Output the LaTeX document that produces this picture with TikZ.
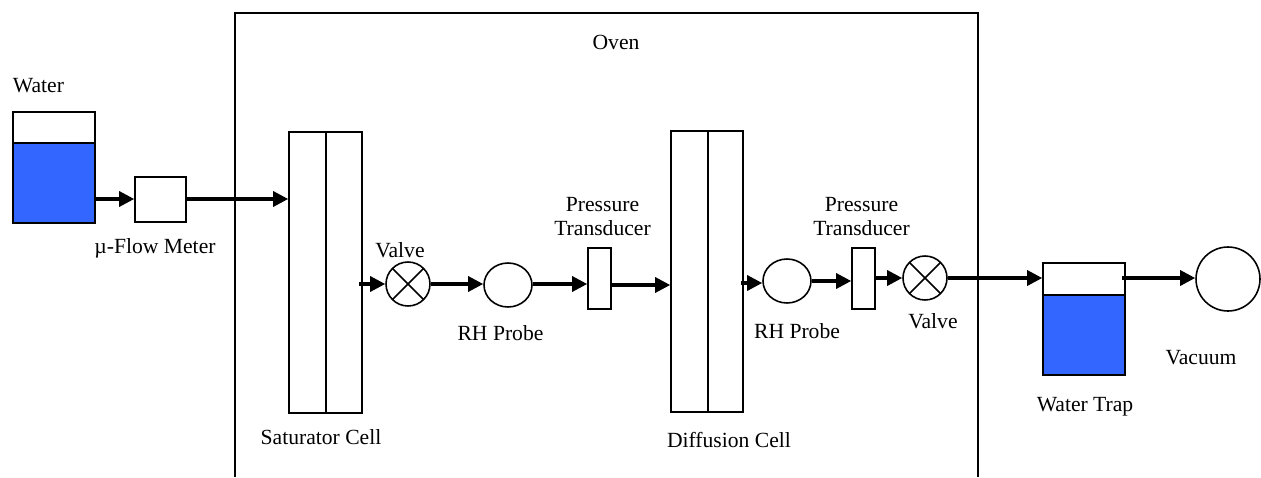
\documentclass[tikz,border=0pt]{standalone}
\usepackage{xcolor}
\usepackage{fontspec}
\setmainfont{Liberation Serif}
\usetikzlibrary{arrows.meta}
\usetikzlibrary{shapes.geometric}
\definecolor{waterblue}{RGB}{51,102,255}
\tikzset{
    box/.style={draw, line width=0.9pt, fill=white, inner sep=0pt},
    water/.style={box, fill=waterblue},
    valve/.style={box, circle, minimum size=0.88cm, path picture={
        \draw[line width=0.9pt] (path picture bounding box.north west) -- (path picture bounding box.south east);
        \draw[line width=0.9pt] (path picture bounding box.north east) -- (path picture bounding box.south west);}},
    probe/.style={box, ellipse, minimum width=0.96cm, minimum height=0.88cm},
    flow/.style={line width=1.8pt, -{Triangle[length=0.3cm,width=0.3cm]}},
    lbl/.style={font=\fontsize{12.3}{14.2}\selectfont, align=center, inner sep=0pt}
}
\begin{document}
\begin{tikzpicture}[x=0.02cm, y=-0.02cm]
    \useasboundingbox (0,0) rectangle (1261,477);
    % oven
    \draw[line width=1.1pt] (235,477) -- (235,13) -- (978,13) -- (978,477);
    \node[lbl] (ovenlabel) at (616,42) {Oven};
    % water supply
    \node[box, minimum width=1.64cm, minimum height=0.62cm] (tanktop) at (54,127.5) {};
    \node[water, minimum width=1.64cm, minimum height=1.6cm] (tank) at (54,183) {};
    \node[lbl] (waterlabel) at (38.5,86) {Water};
    \node[box, minimum width=1.02cm, minimum height=0.9cm] (meter) at (160.5,199.5) {};
    \node[lbl] (meterlabel) at (155,248) {\textmu-Flow Meter};
    % saturator cell
    \node[box, minimum width=0.74cm, minimum height=5.62cm] (satleft) at (307.5,272.5) {};
    \node[box, minimum width=0.72cm, minimum height=5.62cm] (satright) at (344,272.5) {};
    \node[lbl] (satlabel) at (321,437) {Saturator Cell};
    \node[valve] (valveone) at (408,284) {};
    \node[lbl] (valveonelabel) at (400,250) {Valve};
    \node[probe] (probeone) at (508,285) {};
    \node[lbl] (probeonelabel) at (500.5,333) {RH Probe};
    \node[box, minimum width=0.46cm, minimum height=1.22cm] (transone) at (599.5,278.5) {};
    \node[lbl] (transonelabel) at (602.5,216.5) {Pressure\\Transducer};
    % diffusion cell
    \node[box, minimum width=0.74cm, minimum height=5.62cm] (diffleft) at (689.5,271.5) {};
    \node[box, minimum width=0.70cm, minimum height=5.62cm] (diffright) at (725.5,271.5) {};
    \node[lbl] (difflabel) at (729,440) {Diffusion Cell};
    \node[probe] (probetwo) at (787,281) {};
    \node[lbl] (probetwolabel) at (797,331) {RH Probe};
    \node[box, minimum width=0.46cm, minimum height=1.22cm] (transtwo) at (863.5,278.5) {};
    \node[lbl] (transtwolabel) at (861.5,216.5) {Pressure\\Transducer};
    \node[valve] (valvetwo) at (925,278) {};
    \node[lbl] (valvetwolabel) at (933,321) {Valve};
    % water trap and vacuum
    \node[box, minimum width=1.64cm, minimum height=0.64cm] (traptop) at (1084,279) {};
    \node[water, minimum width=1.64cm, minimum height=1.6cm] (trap) at (1084,335) {};
    \node[lbl] (traplabel) at (1085,407) {Water Trap};
    \node[box, circle, minimum size=1.28cm] (vacuum) at (1228,279) {};
    \node[lbl] (vacuumlabel) at (1201,358) {Vacuum};
    % connectors
    \coordinate (tankout) at (94,199);
    \coordinate (satout) at (359,284);
    \coordinate (diffout) at (741,283);
    \coordinate (trapout) at (1122,278);
    \draw[flow] (tankout) -- (meter.west |- tankout);
    \draw[flow] (meter.east |- tankout) -- (satleft.west |- tankout);
    \draw[flow] (satout) -- (valveone.west);
    \draw[flow] (valveone.east) -- (probeone.west |- valveone.east);
    \draw[flow] (probeone.east |- valveone.east) -- (transone.west |- valveone.east);
    \draw[flow] (transone.east |- 0,285) -- (diffleft.west |- 0,285);
    \draw[flow] (diffout) -- (probetwo.west |- diffout);
    \draw[flow] (probetwo.east) -- (transtwo.west |- probetwo.east);
    \draw[flow] (transtwo.east |- valvetwo.west) -- (valvetwo.west);
    \draw[flow] (valvetwo.east) -- (traptop.west |- valvetwo.east);
    \draw[flow] (trapout) -- (vacuum.west |- trapout);
\end{tikzpicture}
\end{document}
